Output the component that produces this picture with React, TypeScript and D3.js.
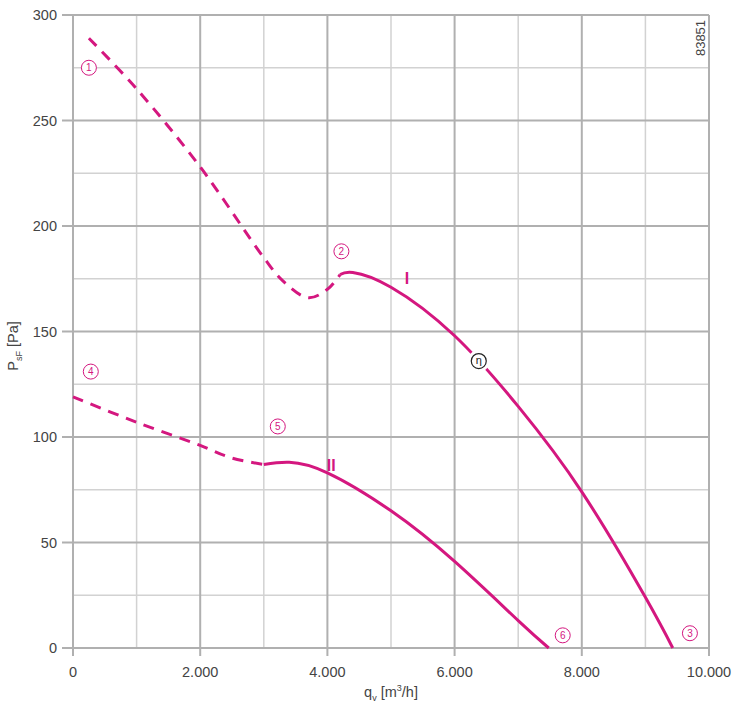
import React from "react";
import * as d3 from "d3";

const xMajor = [0, 2000, 4000, 6000, 8000, 10000];
const xMinor = [1000, 3000, 5000, 7000, 9000];
const yMajor = [0, 50, 100, 150, 200, 250, 300];
const yMinor = [25, 75, 125, 175, 225, 275];
const xTickLabels = ["0", "2.000", "4.000", "6.000", "8.000", "10.000"];

const curve1Dashed: [number, number][] = [
  [250, 289], [1000, 265], [2000, 228], [3000, 185], [3300, 174], [3700, 166], [4000, 170], [4200, 177],
];
const curve1Solid: [number, number][] = [
  [4200, 177], [4400, 178], [5000, 171], [6000, 148], [7000, 114.5], [8000, 74], [9000, 24], [9430, 0],
];
const curve2Dashed: [number, number][] = [
  [0, 119], [1000, 107], [2000, 96], [2500, 90], [3000, 87],
];
const curve2Solid: [number, number][] = [
  [3000, 87], [3400, 88], [4000, 83], [5000, 65], [6000, 41], [7000, 13], [7480, 0],
];

const markers: { label: string; x: number; y: number }[] = [
  { label: "1", x: 250, y: 275 },
  { label: "2", x: 4220, y: 188 },
  { label: "3", x: 9700, y: 7 },
  { label: "4", x: 280, y: 131 },
  { label: "5", x: 3220, y: 105 },
  { label: "6", x: 7700, y: 6 },
];
const etaPoint = { x: 6380, y: 136 };
const romanLabels = [
  { label: "I", x: 5250, y: 175 },
  { label: "II", x: 4060, y: 86.5 },
];

const W = 732, H = 705;
const M = { left: 73, right: 709, top: 15, bottom: 648 };
const MAG = "#d4177f";
const FONT = "'Liberation Sans', Arial, sans-serif";

export default function App() {
  const x = d3.scaleLinear().domain([0, 10000]).range([M.left, M.right]);
  const y = d3.scaleLinear().domain([0, 300]).range([M.bottom, M.top]);
  const dashLine = d3
    .line<[number, number]>()
    .x((d) => x(d[0]))
    .y((d) => y(d[1]))
    .curve(d3.curveCatmullRom.alpha(0.5));
  const solidLine = d3
    .line<[number, number]>()
    .x((d) => x(d[0]))
    .y((d) => y(d[1]))
    .curve(d3.curveNatural);

  return (
    <div style={{ position: "absolute", left: 0, top: 0 }}>
      <svg width={W} height={H} style={{ display: "block", fontFamily: FONT }}>
        <rect width={W} height={H} fill="#fff" />
        {xMinor.map((v) => (
          <line key={"xm" + v} x1={x(v)} x2={x(v)} y1={M.top} y2={M.bottom} stroke="#d2d2d2" strokeWidth={1.5} />
        ))}
        {yMinor.map((v) => (
          <line key={"ym" + v} x1={M.left} x2={M.right} y1={y(v)} y2={y(v)} stroke="#d2d2d2" strokeWidth={1.5} />
        ))}
        {xMajor.map((v) => (
          <line key={"xM" + v} x1={x(v)} x2={x(v)} y1={M.top} y2={M.bottom + 8} stroke="#b0b0b0" strokeWidth={2} />
        ))}
        {yMajor.map((v) => (
          <line key={"yM" + v} x1={M.left - 11} x2={M.right} y1={y(v)} y2={y(v)} stroke="#b0b0b0" strokeWidth={2} />
        ))}
        {yMajor.map((v) => (
          <text key={"yl" + v} x={57} y={y(v)} dy="0.35em" textAnchor="end" fontSize={14.5} fill="#444">
            {v}
          </text>
        ))}
        {xMajor.map((v, i) => (
          <text key={"xl" + v} x={x(v)} y={677} textAnchor="middle" fontSize={14.5} fill="#444">
            {xTickLabels[i]}
          </text>
        ))}
        <text x={391} y={697} textAnchor="middle" fontSize={14.5} fill="#444">
          q<tspan fontSize={9} dy={4}>v</tspan>
          <tspan dy={-4}> [m</tspan>
          <tspan fontSize={9} dy={-6}>3</tspan>
          <tspan dy={6}>/h]</tspan>
        </text>
        <text transform="translate(18,346) rotate(-90)" textAnchor="middle" fontSize={14.5} fill="#444">
          P<tspan fontSize={9} dy={4}>sF</tspan>
          <tspan dy={-4}> [Pa]</tspan>
        </text>
        <text transform="translate(705,38) rotate(-90)" textAnchor="middle" fontSize={13} fill="#444">
          83851
        </text>

        <path d={dashLine(curve1Dashed) || ""} fill="none" stroke={MAG} strokeWidth={3} strokeDasharray="11 8" />
        <path d={solidLine(curve1Solid) || ""} fill="none" stroke={MAG} strokeWidth={3} />
        <path d={dashLine(curve2Dashed) || ""} fill="none" stroke={MAG} strokeWidth={3} strokeDasharray="11 8" />
        <path d={solidLine(curve2Solid) || ""} fill="none" stroke={MAG} strokeWidth={3} />

        {markers.map((m) => (
          <g key={m.label} transform={`translate(${x(m.x)},${y(m.y)})`}>
            <circle r={7.5} fill="#fff" stroke={MAG} strokeWidth={1} />
            <text textAnchor="middle" dy="0.36em" fontSize={10} fill={MAG}>
              {m.label}
            </text>
          </g>
        ))}
        <g transform={`translate(${x(etaPoint.x)},${y(etaPoint.y)})`}>
          <circle r={11} fill="#fff" />
          <circle r={7.5} fill="#fff" stroke="#222" strokeWidth={1.2} />
          <text textAnchor="middle" dy="0.3em" fontSize={11} fill="#222">
            η
          </text>
        </g>
        {romanLabels.map((r) => (
          <text key={r.label} x={x(r.x)} y={y(r.y)} textAnchor="middle" dy="0.35em" fontSize={16} fontWeight="bold" fill={MAG}>
            {r.label}
          </text>
        ))}
      </svg>
    </div>
  );
}
